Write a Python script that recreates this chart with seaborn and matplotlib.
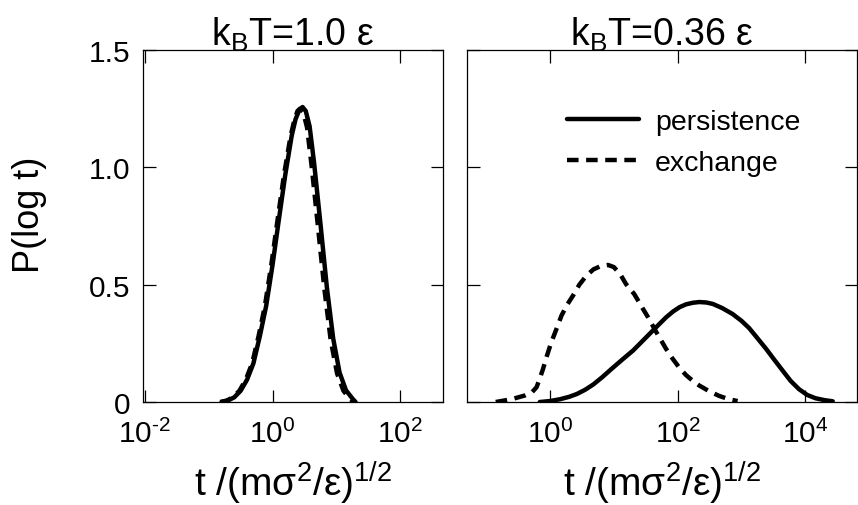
import numpy as np
import pandas as pd
import matplotlib
matplotlib.use("Agg")
import matplotlib.pyplot as plt
import seaborn as sns

# ---------------- data (log10 t, P(log t)) ----------------
# Left panel: kBT = 1.0 eps
left_pers_logt = [-0.80, -0.70, -0.60, -0.50, -0.40, -0.30, -0.20, -0.10, 0.00, 0.10, 0.20,
                  0.30, 0.36, 0.42, 0.47, 0.52, 0.58, 0.65, 0.75, 0.85, 0.95, 1.05, 1.15, 1.25, 1.30]
left_pers_P = [0.000, 0.006, 0.020, 0.048, 0.095, 0.165, 0.280, 0.410, 0.585, 0.780, 0.970,
               1.135, 1.205, 1.245, 1.257, 1.240, 1.175, 1.020, 0.760, 0.490, 0.270, 0.125, 0.050, 0.015, 0.000]

left_exch_logt = [-0.82, -0.72, -0.62, -0.52, -0.42, -0.32, -0.22, -0.12, -0.02, 0.08, 0.18,
                  0.28, 0.34, 0.39, 0.43, 0.48, 0.54, 0.61, 0.71, 0.81, 0.91, 1.01, 1.11, 1.21, 1.27]
left_exch_P = [0.000, 0.006, 0.020, 0.048, 0.095, 0.165, 0.280, 0.410, 0.585, 0.780, 0.970,
               1.130, 1.200, 1.240, 1.250, 1.235, 1.170, 1.010, 0.750, 0.485, 0.265, 0.122, 0.048, 0.014, 0.000]

# Right panel: kBT = 0.36 eps
right_pers_logt = [-0.16, 0.00, 0.16, 0.30, 0.42, 0.55, 0.68, 0.82, 0.96, 1.13, 1.30, 1.45,
                   1.61, 1.72, 1.82, 1.93, 2.03, 2.13, 2.24, 2.34, 2.45, 2.55, 2.70, 2.86,
                   3.00, 3.12, 3.25, 3.39, 3.52, 3.65, 3.77, 3.90, 4.03, 4.16, 4.30, 4.43]
right_pers_P = [0.000, 0.004, 0.012, 0.022, 0.034, 0.052, 0.075, 0.106, 0.140, 0.180, 0.219, 0.260,
                0.304, 0.334, 0.361, 0.386, 0.404, 0.416, 0.423, 0.426, 0.424, 0.418, 0.400, 0.375,
                0.346, 0.315, 0.272, 0.225, 0.178, 0.132, 0.090, 0.055, 0.030, 0.016, 0.008, 0.003]

right_exch_logt = [-0.85, -0.60, -0.39, -0.28, -0.21, -0.16, -0.11, -0.05, 0.02, 0.10, 0.18, 0.27,
                   0.36, 0.46, 0.57, 0.68, 0.80, 0.91, 1.00, 1.10, 1.19, 1.32, 1.45, 1.55, 1.64,
                   1.73, 1.82, 1.92, 2.03, 2.13, 2.23, 2.34, 2.50, 2.65, 2.80, 2.94]
right_exch_P = [0.000, 0.012, 0.028, 0.042, 0.063, 0.100, 0.140, 0.195, 0.254, 0.310, 0.368, 0.415,
                0.453, 0.500, 0.538, 0.565, 0.580, 0.584, 0.575, 0.545, 0.503, 0.460, 0.400, 0.355, 0.310,
                0.268, 0.226, 0.185, 0.145, 0.115, 0.092, 0.070, 0.045, 0.026, 0.012, 0.004]

series_labels = ["persistence", "exchange"]
panel_titles = [r"k$_{B}$T=1.0 ε", r"k$_{B}$T=0.36 ε"]
xlabel = r"t /(mσ$^{2}$/ε)$^{1/2}$"
ylabel = "P(log t)"
yticks = [0, 0.5, 1.0, 1.5]
ytick_labels = ["0", "0.5", "1.0", "1.5"]
left_xticks = [1e-2, 1e0, 1e2]
left_xtick_labels = [r"$10^{\text{-}2}$", r"$10^{0}$", r"$10^{2}$"]
right_xticks = [1e0, 1e2, 1e4]
right_xtick_labels = [r"$10^{0}$", r"$10^{2}$", r"$10^{4}$"]


def make_df(pl, pp, el, ep):
    a = pd.DataFrame({"t": 10.0 ** np.array(pl), "P": pp, "kind": series_labels[0]})
    b = pd.DataFrame({"t": 10.0 ** np.array(el), "P": ep, "kind": series_labels[1]})
    return pd.concat([a, b], ignore_index=True)


df_left = make_df(left_pers_logt, left_pers_P, left_exch_logt, left_exch_P)
df_right = make_df(right_pers_logt, right_pers_P, right_exch_logt, right_exch_P)

# ---------------- style ----------------
sns.set_style("ticks")
plt.rcParams["font.family"] = ["Liberation Sans", "DejaVu Sans"]
plt.rcParams["mathtext.fontset"] = "custom"
plt.rcParams["mathtext.rm"] = "Liberation Sans"
plt.rcParams["mathtext.it"] = "Liberation Sans:italic"
plt.rcParams["mathtext.bf"] = "Liberation Sans:bold"
plt.rcParams["mathtext.default"] = "regular"
plt.rcParams["axes.linewidth"] = 0.9
plt.rcParams["axes.edgecolor"] = "black"
plt.rcParams["text.color"] = "black"
plt.rcParams["axes.labelcolor"] = "black"
plt.rcParams["xtick.color"] = "black"
plt.rcParams["ytick.color"] = "black"
plt.rcParams["lines.solid_joinstyle"] = "round"
plt.rcParams["lines.dash_joinstyle"] = "round"

W, H = 858, 506
fig = plt.figure(figsize=(W / 100, H / 100), dpi=100)
ax1 = fig.add_axes([143 / W, 103 / H, 300 / W, 352 / H])
ax2 = fig.add_axes([467 / W, 103 / H, 390 / W, 352 / H])

dash_map = {series_labels[0]: "", series_labels[1]: (2.6, 1.7)}
for ax, df in [(ax1, df_left), (ax2, df_right)]:
    sns.lineplot(data=df, x="t", y="P", style="kind", style_order=series_labels,
                 dashes=dash_map, color="black", lw=3.2, estimator=None,
                 legend=False, ax=ax)
    ax.set_xscale("log")
    ax.set_ylim(0, 1.5)
    ax.set_yticks(yticks)
    ax.minorticks_off()
    ax.tick_params(axis="both", which="major", direction="in", length=9, width=0.9,
                   top=True, right=True, labelsize=21.5, colors="black")
    ax.tick_params(axis="x", pad=12)
    ax.tick_params(axis="y", pad=9)
    ax.set_xlabel(xlabel, fontsize=28, labelpad=8)
    for s in ax.spines.values():
        s.set_visible(True)
        s.set_color("black")

ax1.set_xlim(10 ** -2.03, 10 ** 2.67)
ax2.set_xlim(10 ** -1.30, 10 ** 4.81)

ax1.set_xticks(left_xticks)
ax1.set_xticklabels(left_xtick_labels)
ax2.set_xticks(right_xticks)
ax2.set_xticklabels(right_xtick_labels)
ax1.minorticks_off()
ax2.minorticks_off()

ax1.set_yticklabels(ytick_labels)
ax2.set_yticklabels([])
ax1.set_ylabel(ylabel, fontsize=26)
ax1.yaxis.set_label_coords(-0.32, 0.534)
ax2.set_ylabel("")

ax1.set_title(panel_titles[0], fontsize=27, pad=4)
ax2.set_title(panel_titles[1], fontsize=27, pad=4)

# legend built from the drawn lines
solid = [l for l in ax2.get_lines() if l.get_linestyle() in ("-", "solid")][0]
dashed = [l for l in ax2.get_lines() if l.get_linestyle() not in ("-", "solid")][0]
ax2.legend([solid, dashed], series_labels, loc="center",
           bbox_to_anchor=(0.555, 0.737), frameon=False, fontsize=20.5,
           handlelength=2.55, handletextpad=0.55, labelspacing=0.5)

fig.savefig("out.png", dpi=100)
